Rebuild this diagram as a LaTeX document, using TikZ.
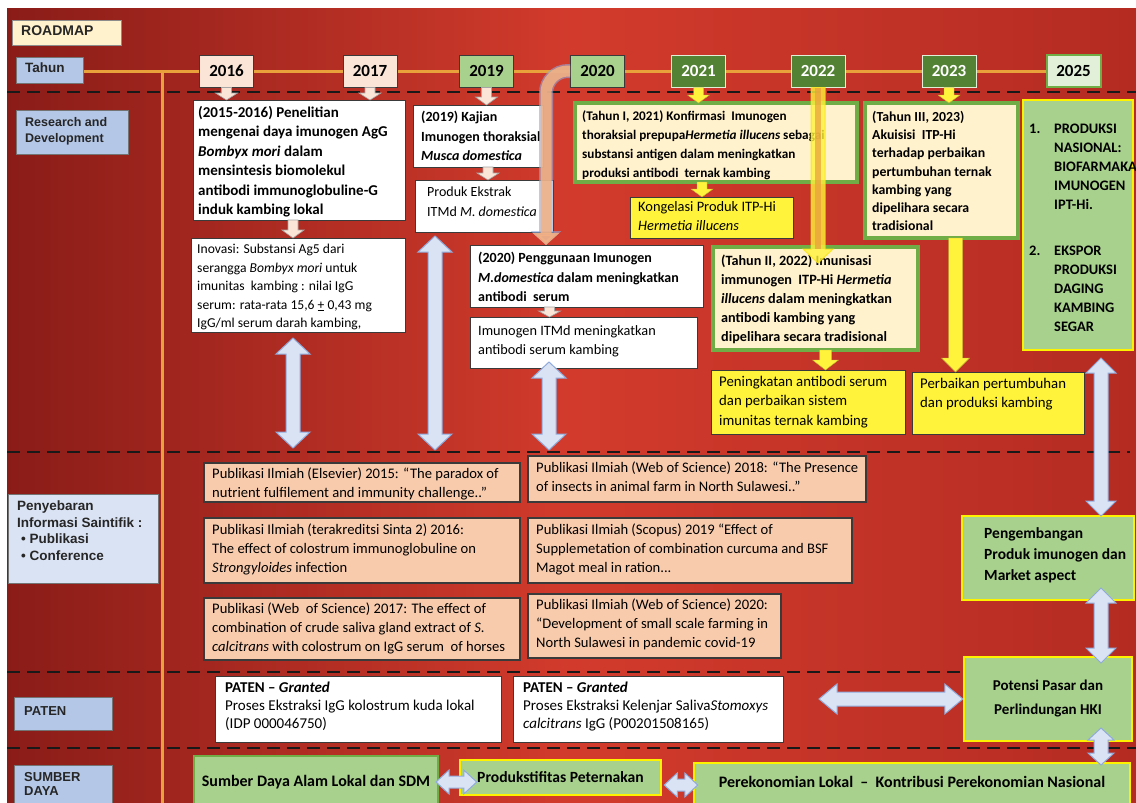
\documentclass[tikz,border=0pt]{standalone}
\usepackage{fontspec}
\setmainfont{Carlito}
\newfontfamily\arl{Liberation Sans}
\usetikzlibrary{calc,arrows.meta}
\pgfdeclarelayer{bg}
\pgfsetlayers{bg,main}
\definecolor{bgL}{HTML}{8A1C18}
\definecolor{bgM}{HTML}{D23B2C}
\definecolor{bgR}{HTML}{B42B22}
\definecolor{orl}{HTML}{E9A23B}
\definecolor{lblue}{HTML}{B4C7E7}
\definecolor{llblue}{HTML}{DAE3F3}
\definecolor{cream}{HTML}{FFF2CC}
\definecolor{ppink}{HTML}{FBE5D6}
\definecolor{lgreen}{HTML}{A9D18E}
\definecolor{dgreen}{HTML}{548235}
\definecolor{vlgreen}{HTML}{E2F0D9}
\definecolor{grn}{HTML}{70AD47}
\definecolor{yel}{HTML}{FFF33B}
\definecolor{peach}{HTML}{F8CBAD}
\definecolor{arrpeach}{HTML}{F4B183}
\definecolor{daf}{HTML}{DAE3F3}
\definecolor{dad}{HTML}{8FAADC}
\definecolor{brdr}{HTML}{3A3A3A}
\newcommand\myfs[2]{\fontsize{#1}{#2}\selectfont}
\newcommand\mybox[8]{%
  \node[#6,anchor=north west,inner sep=0pt,outer sep=0pt,minimum width=#4pt-#2pt,minimum height=#5pt-#3pt] (#1) at (#2,#3) {};
  \node[anchor=north west,align=left,inner sep=0pt,#7] (#1t) at (#1.north west) {#8};}
\newcommand\mydarr[6]{\draw[#3] let \p1=(#1),\p2=(#2) in (\x1-#4pt,\y1)--(\x1+#4pt,\y1)--(\x1+#4pt,\y2+#6pt)--(\x1+#5pt,\y2+#6pt)--(\x1,\y2)--(\x1-#5pt,\y2+#6pt)--(\x1-#4pt,\y2+#6pt)--cycle;}
\newcommand\myvd[6]{\draw[#3] let \p1=(#1),\p2=(#2) in (\x1,\y1)--(\x1+#5pt,\y1-#6pt)--(\x1+#4pt,\y1-#6pt)--(\x1+#4pt,\y2+#6pt)--(\x1+#5pt,\y2+#6pt)--(\x1,\y2)--(\x1-#5pt,\y2+#6pt)--(\x1-#4pt,\y2+#6pt)--(\x1-#4pt,\y1-#6pt)--(\x1-#5pt,\y1-#6pt)--cycle;}
\newcommand\myhd[6]{\draw[#3] let \p1=(#1),\p2=(#2) in (\x1,\y1)--(\x1+#6pt,\y1+#5pt)--(\x1+#6pt,\y1+#4pt)--(\x2-#6pt,\y1+#4pt)--(\x2-#6pt,\y1+#5pt)--(\x2,\y1)--(\x2-#6pt,\y1-#5pt)--(\x2-#6pt,\y1-#4pt)--(\x1+#6pt,\y1-#4pt)--(\x1+#6pt,\y1-#5pt)--cycle;}
\begin{document}
\begin{tikzpicture}[x=1pt,y=-1pt,
  wbox/.style={fill=white,draw=brdr,line width=1pt},
  cbox/.style={fill=cream,draw=grn,line width=3.5pt},
  ybox/.style={fill=yel,draw=brdr,line width=1pt},
  gbox/.style={fill=lgreen,draw=yellow,line width=2.5pt},
  pbox/.style={fill=peach,draw=brdr,line width=1.2pt},
  lbox/.style={fill=lblue,draw=black!55,line width=1pt},
  yr/.style={minimum width=54pt,minimum height=32pt,inner sep=0pt,line width=1pt,font=\myfs{17}{19}\bfseries},
  yrpink/.style={yr,fill=ppink,draw=brdr},
  yrlg/.style={yr,fill=lgreen,draw=brdr},
  yrdg/.style={yr,fill=dgreen,draw=vlgreen,text=white},
  yrvl/.style={yr,fill=vlgreen,draw=grn,line width=2pt},
  orline/.style={draw=orl,line width=3pt},
  dline/.style={draw=black!90,line width=2.8pt,dash pattern=on 13pt off 7pt},
  parr/.style={fill=ppink,draw=black!35,line width=.6pt},
  yarr/.style={fill=yel,draw=yellow!70!black,line width=.4pt},
  dbl/.style={fill=daf,draw=dad,line width=1pt},
  lbl/.style={font=\arl\bfseries\myfs{12.5}{16},text=black!85},
  pubt/.style={xshift=8pt,font=\myfs{14.6}{19}},
]
\useasboundingbox (0,0) rectangle (1136,803);
\begin{pgfonlayer}{bg}
\fill[white] (0,0) rectangle (1136,803);
\shade[left color=bgL,right color=bgR,middle color=bgM] (7,8) rectangle (1136,803);
\draw[dline] (7,92) -- (1136,92);
\draw[dline] (7,452) -- (1130,452);
\draw[dline] (7,672) -- (964,672);
\draw[dline] (7,748) -- (1136,748);
\end{pgfonlayer}

% row labels
\mybox{roadmap}{12}{20}{121}{45}{fill=cream,draw=black!45,line width=1pt}{lbl,xshift=9pt,yshift=-6pt,font=\arl\bfseries\myfs{14}{16}}{ROADMAP}
\mybox{tahun}{16}{57}{83}{83}{lbox}{lbl,xshift=9pt,yshift=-6pt,font=\arl\bfseries\myfs{13.5}{16}}{Tahun}
\mybox{rnd}{16}{110}{128}{154}{lbox}{lbl,xshift=9pt,yshift=-7pt}{Research and\\Development}
\mybox{pen}{8}{494}{158}{583}{fill=llblue,draw=black!55,line width=1pt}{lbl,xshift=9pt,yshift=-7pt,font=\arl\bfseries\myfs{13.5}{16.5}}{Penyebaran\\Informasi Saintifik :\\\hspace*{4pt}• Publikasi\\\hspace*{4pt}• Conference}
\mybox{paten}{14}{697}{112}{730}{lbox}{lbl,xshift=10pt,yshift=-9pt,font=\arl\bfseries\myfs{13}{15}}{PATEN}
\mybox{sumber}{14}{765}{112}{810}{lbox}{lbl,xshift=10pt,yshift=-7pt,font=\arl\bfseries\myfs{13}{14.5}}{SUMBER\\DAYA}

% years
\node[yrpink] (y2016) at (226.5,71) {2016};
\node[yrpink] (y2017) at (370,71) {2017};
\node[yrlg] (y2019) at (486.5,71) {2019};
\node[yrlg] (y2020) at (597.5,71) {2020};
\node[yrdg] (y2021) at (698.5,71) {2021};
\node[yrdg] (y2022) at (818,71) {2022};
\node[yrdg] (y2023) at (949,71) {2023};
\node[yrvl] (y2025) at (1073.5,71) {2025};

\begin{pgfonlayer}{bg}
\draw[orline] (tahun.east |- y2016.west) -- (y2025.west);
\draw[orline] (162,71) -- (162,803);
\end{pgfonlayer}

% research boxes
\mybox{A}{193}{100}{405}{220}{wbox}{xshift=5pt,yshift=-6pt,font=\bfseries\myfs{15}{19.5}}{(2015-2016) Penelitian\\mengenai daya imunogen AgG\\\textit{Bombyx mori} dalam\\mensintesis biomolekul\\antibodi immunoglobuline-G\\induk kambing lokal}
\mybox{B}{191}{238}{405}{332}{wbox}{xshift=6pt,yshift=-6pt,font=\myfs{13.6}{18.5}}{Inovasi: Substansi Ag5 dari\\serangga \textit{Bombyx mori} untuk\\imunitas~ kambing : nilai IgG\\serum: rata-rata 15,6 \underline{+} 0,43 mg\\IgG/ml serum darah kambing,}
\mybox{C}{413}{105}{543}{167}{wbox}{xshift=8pt,yshift=-6pt,font=\bfseries\myfs{14}{19.5}}{(2019) Kajian\\Imunogen thoraksial\\\textit{Musca domestica}}
\mybox{D}{415}{180}{553}{232}{wbox}{xshift=12pt,yshift=-7pt,font=\myfs{14}{20}}{Produk Ekstrak\\ITMd \textit{M. domestica}}
\mybox{E}{470}{245}{703}{307}{wbox}{xshift=8pt,yshift=-7pt,font=\bfseries\myfs{14}{19.5}}{(2020) Penggunaan Imunogen\\\textit{M.domestica} dalam meningkatkan\\antibodi~ serum}
\mybox{F}{470}{317}{697}{368}{wbox}{xshift=8pt,yshift=-8pt,font=\myfs{14.3}{19}}{Imunogen ITMd meningkatkan\\antibodi serum kambing}
\mybox{G}{575}{103}{857}{182}{cbox}{xshift=7pt,yshift=-8pt,font=\bfseries\myfs{13.2}{19}}{(Tahun I, 2021) Konfirmasi~ Imunogen\\thoraksial prepupa\textit{Hermetia illucens} sebagai\\substansi antigen dalam meningkatkan\\produksi antibodi~ ternak kambing}
\mybox{H}{630}{197}{793}{238}{ybox}{xshift=8pt,yshift=-4pt,font=\myfs{14.4}{19}}{Kongelasi Produk ITP-Hi\\\textit{Hermetia illucens}}
\mybox{I}{713}{247}{918}{350}{cbox}{xshift=8pt,yshift=-8pt,font=\bfseries\myfs{14.2}{19}}{(Tahun II, 2022) Imunisasi\\immunogen~ ITP-Hi \textit{Hermetia}\\\textit{illucens} dalam meningkatkan\\antibodi kambing yang\\dipelihara secara tradisional}
\mybox{J}{865}{103}{1018}{238}{cbox}{xshift=7pt,yshift=-8pt,font=\bfseries\myfs{13.8}{18.2}}{(Tahun III, 2023)\\Akuisisi~ ITP-Hi\\terhadap perbaikan\\pertumbuhan ternak\\kambing yang\\dipelihara secara\\tradisional}
\mybox{K}{711}{370}{905}{434}{ybox}{xshift=8pt,yshift=-6pt,font=\myfs{14.8}{19.5}}{Peningkatan antibodi serum\\dan perbaikan sistem\\imunitas ternak kambing}
\mybox{L}{912}{372}{1084}{434}{ybox}{xshift=8pt,yshift=-6pt,font=\myfs{14.8}{19.5}}{Perbaikan pertumbuhan\\dan produksi kambing}
\mybox{M}{1023}{100}{1133}{350}{gbox}{xshift=6pt,yshift=-24pt,font=\bfseries\myfs{14.5}{19}}{\makebox[25pt][l]{1.}PRODUKSI\\\hspace*{25pt}NASIONAL:\\\hspace*{25pt}BIOFARMAKA\\\hspace*{25pt}IMUNOGEN\\\hspace*{25pt}IPT-Hi.\\[27pt]\makebox[25pt][l]{2.}EKSPOR\\\hspace*{25pt}PRODUKSI\\\hspace*{25pt}DAGING\\\hspace*{25pt}KAMBING\\\hspace*{25pt}SEGAR}
\mybox{N}{962}{516}{1134}{600}{gbox}{xshift=22pt,yshift=-11pt,font=\bfseries\myfs{15.5}{21}}{Pengembangan\\Produk imunogen dan\\Market aspect}
\node[gbox,minimum width=168pt,minimum height=84pt,inner sep=0pt,align=center,font=\bfseries\myfs{15}{24}] (O) at (1048,699) {Potensi Pasar dan\\Perlindungan HKI};

% publications
\mybox{P1}{204}{463}{520}{502}{pbox}{pubt,yshift=-5pt}{Publikasi Ilmiah (Elsevier) 2015: “The paradox of\\nutrient fulfilement and immunity challenge..”}
\mybox{P2}{204}{518}{520}{583}{pbox}{pubt,yshift=-6pt}{Publikasi Ilmiah (terakreditsi Sinta 2) 2016:\\The effect of colostrum immunoglobuline on\\\textit{Strongyloides} infection}
\mybox{P3}{204}{598}{520}{660}{pbox}{pubt,yshift=-5pt}{Publikasi (Web~ of Science) 2017: The effect of\\combination of crude saliva gland extract of \textit{S.}\\\textit{calcitrans} with colostrum on IgG serum~ of horses}
\mybox{P4}{528}{456}{866}{502}{pbox}{pubt,yshift=-6pt}{Publikasi Ilmiah (Web of Science) 2018: “The Presence\\of insects in animal farm in North Sulawesi..”}
\mybox{P5}{528}{518}{852}{583}{pbox}{pubt,yshift=-6pt}{Publikasi Ilmiah (Scopus) 2019 “Effect of\\Supplemetation of combination curcuma and BSF\\Magot meal in ration...}
\mybox{P6}{528}{594}{781}{658}{pbox}{pubt,yshift=-5pt}{Publikasi Ilmiah (Web of Science) 2020:\\“Development of small scale farming in\\North Sulawesi in pandemic covid-19}

% patents
\mybox{Pat1}{215}{676}{501}{742}{wbox}{xshift=10pt,yshift=-6pt,font=\myfs{15}{18}}{\textbf{PATEN -- \textit{Granted}}\\Proses Ekstraksi IgG kolostrum kuda lokal\\(IDP 000046750)}
\mybox{Pat2}{513}{676}{783}{742}{wbox}{xshift=10pt,yshift=-6pt,font=\myfs{15}{18}}{\textbf{PATEN -- \textit{Granted}}\\Proses Ekstraksi Kelenjar Saliva\textit{Stomoxys}\\\textit{calcitrans} IgG (P00201508165)}

% bottom
\node[fill=lgreen,draw=grn,line width=2pt,minimum width=244pt,minimum height=54pt,inner sep=0pt] (S1) at (316,783) {};
\node[font=\bfseries\myfs{16}{18},inner sep=0pt] (S1t) at (316,782) {Sumber Daya Alam Lokal dan SDM};
\node[gbox,minimum width=201pt,minimum height=35pt,inner sep=0pt,font=\bfseries\myfs{15.6}{18}] (S2) at (560.5,777.5) {Produkstifitas Peternakan};
\node[gbox,minimum width=436pt,minimum height=46pt,inner sep=0pt] (S3) at (912,786) {};
\node[font=\bfseries\myfs{16}{18},inner sep=0pt] (S3t) at (912,782) {Perekonomian Lokal~ --~ Kontribusi Perekonomian Nasional};

% small down arrows
\mydarr{y2016.south}{y2016.south |- A.north}{parr}{5}{11}{7}
\mydarr{y2017.south}{y2017.south |- A.north}{parr}{5}{11}{7}
\mydarr{[xshift=-6pt]A.south}{[xshift=-6pt]A.south |- B.north}{parr}{5}{11}{8}
\mydarr{y2019.south}{y2019.south |- C.north}{parr}{5}{11}{8}
\mydarr{[xshift=10pt]C.south}{[xshift=10pt]C.south |- D.north}{parr}{5}{11}{7}
\mydarr{[xshift=-37pt]E.south}{[xshift=-37pt]E.south |- F.north}{parr}{5}{11}{6}
\mydarr{y2021.south}{y2021.south |- G.north}{yarr}{5}{11}{8}
\mydarr{[xshift=-14pt]G.south}{[xshift=-14pt]G.south |- H.north}{yarr}{5}{11}{8}
\mydarr{[xshift=10pt]I.south}{[xshift=10pt]I.south |- K.north}{yarr}{6}{13}{10}
\mydarr{y2023.south}{y2023.south |- J.north}{yarr}{5}{11}{8}
\mydarr{[xshift=14pt]J.south}{[xshift=14pt]J.south |- L.north}{yarr}{7}{14}{14}

% long 2022 arrow
\coordinate (t22) at ($(y2022.south |- I.north)+(0,16)$);
\mydarr{y2022.south}{t22}{fill=yel,draw=yellow!80!orl,line width=1pt,opacity=.8}{7}{15}{14}
\draw[draw=orl,line width=6pt,opacity=.75] (y2022.south) -- ($(t22)+(0,-14)$);

% curved 2020 arrow
\coordinate (ctip) at (546,245);
\draw[line width=14pt,draw=dad,opacity=.6,rounded corners=22pt,-{Triangle[width=30pt,length=14pt]}] (y2020.west) -| (ctip);
\draw[line width=11pt,draw=arrpeach,opacity=.85,rounded corners=22pt,-{Triangle[width=26pt,length=12pt]}] (y2020.west) -| (ctip);

% double arrows
\coordinate (da1t) at (293,338); \coordinate (da1b) at (293,448);
\coordinate (da2t) at (435,236); \coordinate (da2b) at (435,450);
\coordinate (da3t) at (549,362); \coordinate (da3b) at (549,450);
\coordinate (da4t) at (1101,358);
\coordinate (da5t) at (1101,588); \coordinate (da5b) at (1101,663);
\coordinate (da6t) at (1101,728); \coordinate (da6b) at (1101,765);
\myvd{da1t}{da1b}{dbl}{7}{17}{16}
\myvd{da2t}{da2b}{dbl}{7}{17}{16}
\myvd{da3t}{da3b}{dbl}{7}{17}{16}
\myvd{da4t}{da4t |- N.north}{dbl}{7}{15}{15}
\myvd{da5t}{da5b}{dbl}{7}{15}{15}
\myvd{da6t}{da6b}{dbl}{7}{13}{12}
\myhd{$(Pat2.east |- O.west)+(36,0)$}{O.west}{dbl}{7}{15}{18}
\myhd{$(S1.east |- S1t)+(-3,0)$}{$(S2.west |- S1t)+(18,0)$}{dbl}{6}{12}{13}
\myhd{$(S2.east |- S1t)+(2,3)$}{$(S3.west |- S1t)+(5,3)$}{dbl}{6}{12}{13}
\end{tikzpicture}
\end{document}
